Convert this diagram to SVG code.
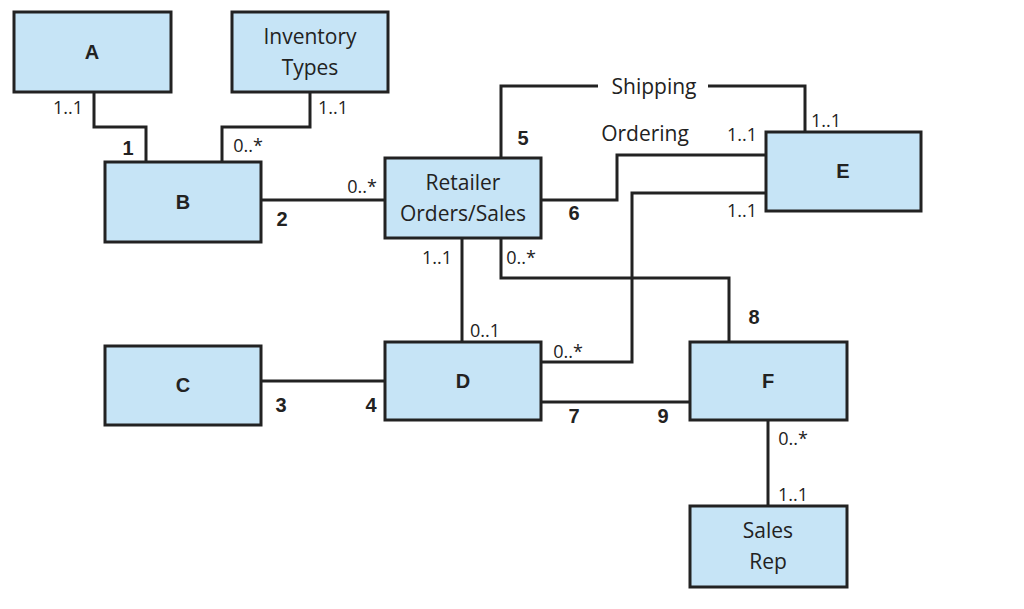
<svg xmlns="http://www.w3.org/2000/svg" width="1024" height="609" viewBox="0 0 1024 609">
<style>
.n{fill:#c6e4f6;stroke:#222;stroke-width:3}
.c{fill:none;stroke:#222;stroke-width:3}
.t{font-family:"Open Sans","Liberation Sans",sans-serif;font-size:21px;fill:#222;text-anchor:middle}
.b{font-family:"Liberation Sans",sans-serif;font-size:20px;font-weight:bold;fill:#222;text-anchor:middle}
.l{font-family:"Open Sans","Liberation Sans",sans-serif;font-size:18px;fill:#222;text-anchor:middle}
</style>
<rect width="1024" height="609" fill="#fff"/>
<g id="connectors">
<path class="c" d="M94 92V127H146V162"/>
<path class="c" d="M310 92V127H222V162"/>
<path class="c" d="M261 200H385"/>
<path class="c" d="M501 158V86H598M708 86H805V132"/>
<path class="c" d="M541 200H617V155H766"/>
<path class="c" d="M541 362H632V193H766"/>
<path class="c" d="M501 238V278H729V342"/>
<path class="c" d="M462 238V342"/>
<path class="c" d="M261 381H385"/>
<path class="c" d="M541 402H690"/>
<path class="c" d="M768 420V506"/>
<text class="l" x="68" y="114">1..1</text>
<text class="b" x="128" y="155">1</text>
<text class="l" x="248" y="152">0..*</text>
<text class="l" x="333" y="114">1..1</text>
<text class="l" x="362" y="193">0..*</text>
<text class="b" x="282" y="226">2</text>
<text class="b" x="523" y="145">5</text>
<text class="t" x="654" y="94">Shipping</text>
<text class="t" x="645" y="141">Ordering</text>
<text class="l" x="742" y="141">1..1</text>
<text class="l" x="826" y="127">1..1</text>
<text class="b" x="574" y="220">6</text>
<text class="l" x="742" y="217">1..1</text>
<text class="l" x="437" y="264">1..1</text>
<text class="l" x="521" y="264">0..*</text>
<text class="b" x="754" y="324">8</text>
<text class="l" x="485" y="337">0..1</text>
<text class="l" x="568" y="358">0..*</text>
<text class="b" x="281" y="412">3</text>
<text class="b" x="371" y="412">4</text>
<text class="b" x="574" y="423">7</text>
<text class="b" x="663" y="423">9</text>
<text class="l" x="793" y="445">0..*</text>
<text class="l" x="793" y="501">1..1</text>
</g>
<g id="A"><rect class="n" x="14" y="12" width="157" height="80"/><text class="b" x="92" y="59">A</text></g>
<g id="IT"><rect class="n" x="232" y="12" width="156" height="80"/><text class="t" x="310" y="44">Inventory</text><text class="t" x="310" y="75">Types</text></g>
<g id="B"><rect class="n" x="105" y="162" width="156" height="80"/><text class="b" x="183" y="209">B</text></g>
<g id="R"><rect class="n" x="385" y="158" width="156" height="80"/><text class="t" x="463" y="190">Retailer</text><text class="t" x="463" y="221">Orders/Sales</text></g>
<g id="E"><rect class="n" x="766" y="132" width="155" height="79"/><text class="b" x="843" y="178">E</text></g>
<g id="C"><rect class="n" x="105" y="346" width="156" height="79"/><text class="b" x="183" y="392">C</text></g>
<g id="D"><rect class="n" x="385" y="342" width="156" height="78"/><text class="b" x="463" y="388">D</text></g>
<g id="F"><rect class="n" x="690" y="342" width="157" height="78"/><text class="b" x="768" y="388">F</text></g>
<g id="SR"><rect class="n" x="690" y="506" width="157" height="81"/><text class="t" x="768" y="538">Sales</text><text class="t" x="768" y="569">Rep</text></g>
</svg>
